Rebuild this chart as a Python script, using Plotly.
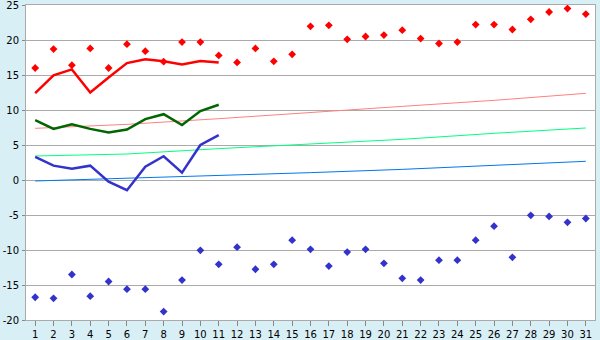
import plotly.graph_objects as go

days = list(range(1, 32))

rec_max = [16.0, 18.7, 16.4, 18.8, 16.0, 19.4, 18.4, 16.9, 19.7, 19.7,
           17.8, 16.8, 18.8, 16.95, 17.95, 21.95, 22.1, 20.1, 20.5, 20.7,
           21.4, 20.2, 19.5, 19.7, 22.2, 22.2, 21.5, 22.95, 24.0, 24.5, 23.7]
rec_min = [-16.75, -16.9, -13.5, -16.6, -14.5, -15.6, -15.6, -18.8, -14.3, -10.05,
           -12.05, -9.6, -12.75, -12.05, -8.6, -9.9, -12.3, -10.3, -9.9, -11.9,
           -14.05, -14.3, -11.45, -11.45, -8.6, -6.6, -11.05, -5.05, -5.2, -6.05, -5.5]

obs_days = list(range(1, 12))
obs_max = [12.4, 14.95, 15.8, 12.5, 14.65, 16.7, 17.25, 16.95, 16.5, 17.0, 16.8]
obs_mean = [8.55, 7.3, 7.95, 7.3, 6.8, 7.2, 8.7, 9.4, 7.85, 9.85, 10.75]
obs_min = [3.3, 2.05, 1.6, 2.05, -0.25, -1.45, 1.9, 3.4, 1.05, 5.0, 6.4]

norm_days = [1, 6, 11, 16, 21, 26, 31]
norm_max = [7.38, 7.95, 8.76, 9.67, 10.52, 11.38, 12.38]
norm_mean = [3.43, 3.71, 4.48, 5.1, 5.81, 6.67, 7.43]
norm_min = [-0.14, 0.24, 0.62, 1.05, 1.52, 2.1, 2.67]

y_ticks = [-20, -15, -10, -5, 0, 5, 10, 15, 20, 25]
y_tick_labels = ["-20", "-15", "-10", "-5", "0", "5", "10", "15", "20", "25"]

fig = go.Figure()

fig.add_trace(go.Scatter(x=norm_days, y=norm_max, mode="lines",
                         line=dict(color="#FF8080", width=1)))
fig.add_trace(go.Scatter(x=norm_days, y=norm_mean, mode="lines",
                         line=dict(color="#00FF80", width=1)))
fig.add_trace(go.Scatter(x=norm_days, y=norm_min, mode="lines",
                         line=dict(color="#0077EE", width=1)))

fig.add_trace(go.Scatter(x=obs_days, y=obs_max, mode="lines",
                         line=dict(color="#FF0000", width=2.5)))
fig.add_trace(go.Scatter(x=obs_days, y=obs_mean, mode="lines",
                         line=dict(color="#006600", width=2.5)))
fig.add_trace(go.Scatter(x=obs_days, y=obs_min, mode="lines",
                         line=dict(color="#3333CC", width=2.5)))

fig.add_trace(go.Scatter(x=days, y=rec_max, mode="markers",
                         marker=dict(symbol="diamond", size=6, color="#FF0000")))
fig.add_trace(go.Scatter(x=days, y=rec_min, mode="markers",
                         marker=dict(symbol="diamond", size=6, color="#3333CC")))

fig.update_layout(
    width=600, height=340,
    margin=dict(l=26, r=5, t=5, b=20),
    paper_bgcolor="#D9EFF6",
    plot_bgcolor="#FFFFFF",
    showlegend=False,
    font=dict(family="DejaVu Sans", size=10, color="#000000"),
)
fig.update_xaxes(
    range=[0.5, 31.5], tickmode="array", tickvals=days,
    ticktext=[str(d) for d in days], automargin=False,
    ticklabeloverflow="allow",
    showgrid=False, zeroline=False,
    showline=True, linecolor="#AAAAAA", linewidth=1, mirror=True,
    ticks="outside", ticklen=5, tickcolor="#888888",
)
fig.update_yaxes(
    range=[-20, 25], tickmode="array", tickvals=y_ticks, ticktext=y_tick_labels,
    automargin=False, ticklabeloverflow="allow",
    showgrid=True, gridcolor="#AAAAAA", gridwidth=1, zeroline=False,
    showline=True, linecolor="#AAAAAA", linewidth=1, mirror=True,
    ticks="outside", ticklen=3, tickcolor="#888888", ticklabelstandoff=1,
)

fig.write_html("out.html")
